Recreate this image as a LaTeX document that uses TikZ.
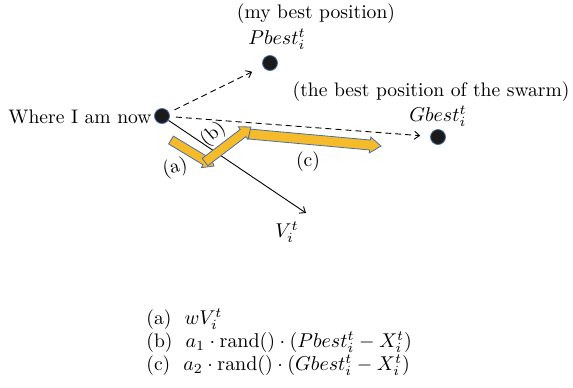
\documentclass[tikz,border=0pt]{standalone}
\usetikzlibrary{calc,arrows.meta}
\definecolor{yell}{HTML}{F5BB2A}
\definecolor{edgeblue}{HTML}{4A6FA5}
\definecolor{dotfill}{HTML}{1A1A1A}
\tikzset{
  every node/.style={font=\fontsize{9.8}{12}\selectfont, inner sep=1pt},
  dot/.style={circle, fill=dotfill, draw=edgeblue, line width=0.4pt, minimum size=7.5pt, inner sep=0pt},
  dasharrow/.style={dashed, dash pattern=on 3pt off 2pt, line width=0.45pt, -{Straight Barb[length=2.5pt,width=4pt]}},
  solidarrow/.style={line width=0.45pt, -{Straight Barb[length=2.5pt,width=4pt]}},
  yarrow/.style={fill=yell, draw=edgeblue, line width=0.4pt, line join=miter},
  formula/.style={anchor=west, inner sep=1pt},
}
\newcommand\blockarrow[5]{% from, to, shaft half width, head half width, head length
  \coordinate (ba-h) at ($(#2)!#5!(#1)$);
  \draw[yarrow] ($(#1)!#3!90:(#2)$) -- ($(ba-h)!#3!-90:(#1)$) -- ($(ba-h)!#4!-90:(#1)$) -- (#2)
     -- ($(ba-h)!#4!90:(#1)$) -- ($(ba-h)!#3!90:(#1)$) -- ($(#1)!#3!-90:(#2)$) -- cycle;
}
\begin{document}
\begin{tikzpicture}[x=0.5pt,y=-0.5pt]
\useasboundingbox (0,0) rectangle (573,387);
% dots
\node[dot] (me) at (162,116) {};
\node[dot] (pb) at (270,63) {};
\node[dot] (gb) at (438,137) {};
% labels
\node[anchor=east] (where) at (154,117) {Where I am now};
\node (mybest) at (316,14) {(my best position)};
\node (pbl) at (277,39) {$Pbest_i^t$};
\node[anchor=east] (swarm) at (572,92) {(the best position of the swarm)};
\node (gbl) at (438,116) {$Gbest_i^t$};
% connectors
\draw[dasharrow, shorten <=3pt, shorten >=6pt] (me) -- (pb);
\draw[dasharrow, shorten <=3pt, shorten >=5pt] (me) -- (gb);
\coordinate (vtip) at (306,213);
\draw[solidarrow] (me) -- (vtip);
\node (vl) at (287,232) {$V_i^t$};
% yellow block arrows
\coordinate (a0) at (171,140);
\coordinate (a1) at (214,166);
\coordinate (b0) at (205,162);
\coordinate (b1) at (251,127);
\coordinate (c0) at (249,134);
\coordinate (c1) at (381,146);
\blockarrow{a0}{a1}{2.3pt}{4pt}{5pt}
\blockarrow{c0}{c1}{2.5pt}{4pt}{5.5pt}
\blockarrow{b0}{b1}{2.3pt}{4pt}{5pt}
\node[rotate=12] (la) at (175,168) {(a)};
\node[rotate=40] (lb) at (213,134) {(b)};
\node (lc) at (308,162) {(c)};
% formulas
\node[formula] (fa) at (144,319) {(a)\ \ $wV_i^t$};
\node[formula] (fb) at (144,342) {(b)\ \ $a_1\cdot\mathrm{rand}()\cdot(Pbest_i^t-X_i^t)$};
\node[formula] (fc) at (144,365) {(c)\ \ $a_2\cdot\mathrm{rand}()\cdot(Gbest_i^t-X_i^t)$};
\end{tikzpicture}
\end{document}
